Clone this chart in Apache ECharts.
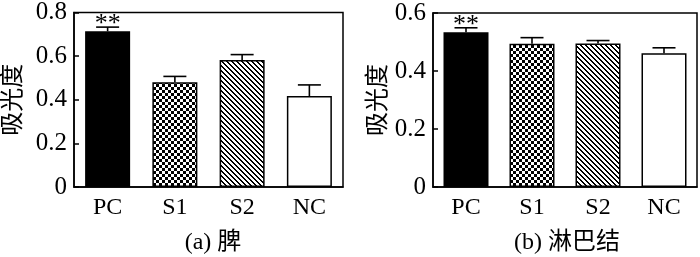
<!doctype html>
<html>
<head>
<meta charset="utf-8">
<title>吸光度</title>
<script src="https://cdn.jsdelivr.net/npm/echarts@6/dist/echarts.min.js"></script>
<style>
  html, body { margin: 0; padding: 0; background: #fff; }
  #main { width: 700px; height: 257px; }
</style>
</head>
<body>
<div id="main"></div>
<script>
  // data
  const groups = ["PC", "S1", "S2", "NC"];
  const spleenMean = [0.714, 0.480, 0.582, 0.417];
  const spleenErr = [0.019, 0.027, 0.025, 0.051];
  const spleenSig = ["**", "", "", ""];
  const lymphMean = [0.534, 0.494, 0.495, 0.461];
  const lymphErr = [0.015, 0.021, 0.010, 0.019];
  const lymphSig = ["**", "", "", ""];
  const yTitle = "吸光度";
  const captions = ["(a) 脾", "(b) 淋巴结"];

  const FONT = "Liberation Serif, 'Noto Sans CJK SC', serif";

  // pixel patterns for the bar fills
  function makePattern(size, test) {
    const c = document.createElement("canvas");
    c.width = size; c.height = size;
    const ctx = c.getContext("2d");
    const img = ctx.createImageData(size, size);
    for (let y = 0; y < size; y++) {
      for (let x = 0; x < size; x++) {
        const v = test(x, y) ? 0 : 255;
        const i = (y * size + x) * 4;
        img.data[i] = v; img.data[i + 1] = v; img.data[i + 2] = v; img.data[i + 3] = 255;
      }
    }
    ctx.putImageData(img, 0, 0);
    return { image: c, repeat: "repeat" };
  }
  const checker = makePattern(6, (x, y) => ((Math.floor(x / 3) + Math.floor(y / 3)) % 2 === 0));
  const hatch = makePattern(5, (x, y) => (((x - y) % 5 + 5) % 5) < 2);
  const fills = ["#000", checker, hatch, "#fff"];

  function barData(vals) {
    return vals.map((v, i) => ({ value: v, itemStyle: { color: fills[i] } }));
  }

  function errSeries(idx, mean, err, sig) {
    return {
      type: "custom",
      xAxisIndex: idx,
      yAxisIndex: idx,
      z: 5,
      data: mean.map((m, i) => [i, m, m + err[i]]),
      renderItem: function (params, api) {
        const base = api.coord([api.value(0), api.value(1)]);
        const top = api.coord([api.value(0), api.value(2)]);
        const half = 11.5;
        const s = { stroke: "#000", lineWidth: 1.6 };
        const children = [
          { type: "line", shape: { x1: base[0], y1: base[1], x2: top[0], y2: top[1] }, style: s },
          { type: "line", shape: { x1: top[0] - half, y1: top[1], x2: top[0] + half, y2: top[1] }, style: s }
        ];
        const label = sig[params.dataIndex];
        if (label) {
          children.push({
            type: "text",
            style: {
              text: label, x: top[0], y: top[1] - 3,
              align: "center", verticalAlign: "middle",
              font: "26px " + FONT, fill: "#000"
            }
          });
        }
        return { type: "group", children: children };
      }
    };
  }

  function xAxis(idx) {
    return {
      type: "category",
      gridIndex: idx,
      data: groups,
      axisLine: { lineStyle: { color: "#000", width: 1.5 } },
      axisTick: { show: false },
      axisLabel: { color: "#000", fontFamily: FONT, fontSize: 24, margin: 9 }
    };
  }

  function yAxis(idx, max, gap) {
    return {
      type: "value",
      gridIndex: idx,
      min: 0,
      max: max,
      interval: 0.2,
      name: yTitle,
      nameLocation: "middle",
      nameGap: gap,
      nameTextStyle: { color: "#000", fontFamily: FONT, fontSize: 24 },
      splitLine: { show: false },
      axisLine: { show: true, lineStyle: { color: "#000", width: 1.5 } },
      axisTick: { show: true, inside: true, length: 5, lineStyle: { color: "#000", width: 1.5 } },
      axisLabel: {
        color: "#000", fontFamily: FONT, fontSize: 25, margin: 7,
        formatter: v => (v === 0 ? "0" : v.toFixed(1))
      }
    };
  }

  const chart = echarts.init(document.getElementById("main"));
  chart.setOption({
    animation: false,
    title: [
      { text: captions[0], left: 208, top: 226, textAlign: "center",
        textStyle: { color: "#000", fontFamily: FONT, fontSize: 24, fontWeight: "normal" } },
      { text: captions[1], left: 562, top: 226, textAlign: "center",
        textStyle: { color: "#000", fontFamily: FONT, fontSize: 24, fontWeight: "normal" } }
    ],
    grid: [
      { left: 74, right: 357, top: 12, bottom: 70, show: true, borderColor: "#000", borderWidth: 1.5 },
      { left: 433, right: 3, top: 13, bottom: 70, show: true, borderColor: "#000", borderWidth: 1.5 }
    ],
    xAxis: [xAxis(0), xAxis(1)],
    yAxis: [yAxis(0, 0.8, 48), yAxis(1, 0.6, 42)],
    series: [
      { type: "bar", xAxisIndex: 0, yAxisIndex: 0, barWidth: 45, data: barData(spleenMean),
        itemStyle: { borderColor: "#000", borderWidth: 1.5 } },
      { type: "bar", xAxisIndex: 1, yAxisIndex: 1, barWidth: 45, data: barData(lymphMean),
        itemStyle: { borderColor: "#000", borderWidth: 1.5 } },
      errSeries(0, spleenMean, spleenErr, spleenSig),
      errSeries(1, lymphMean, lymphErr, lymphSig)
    ]
  });
</script>
</body>
</html>
